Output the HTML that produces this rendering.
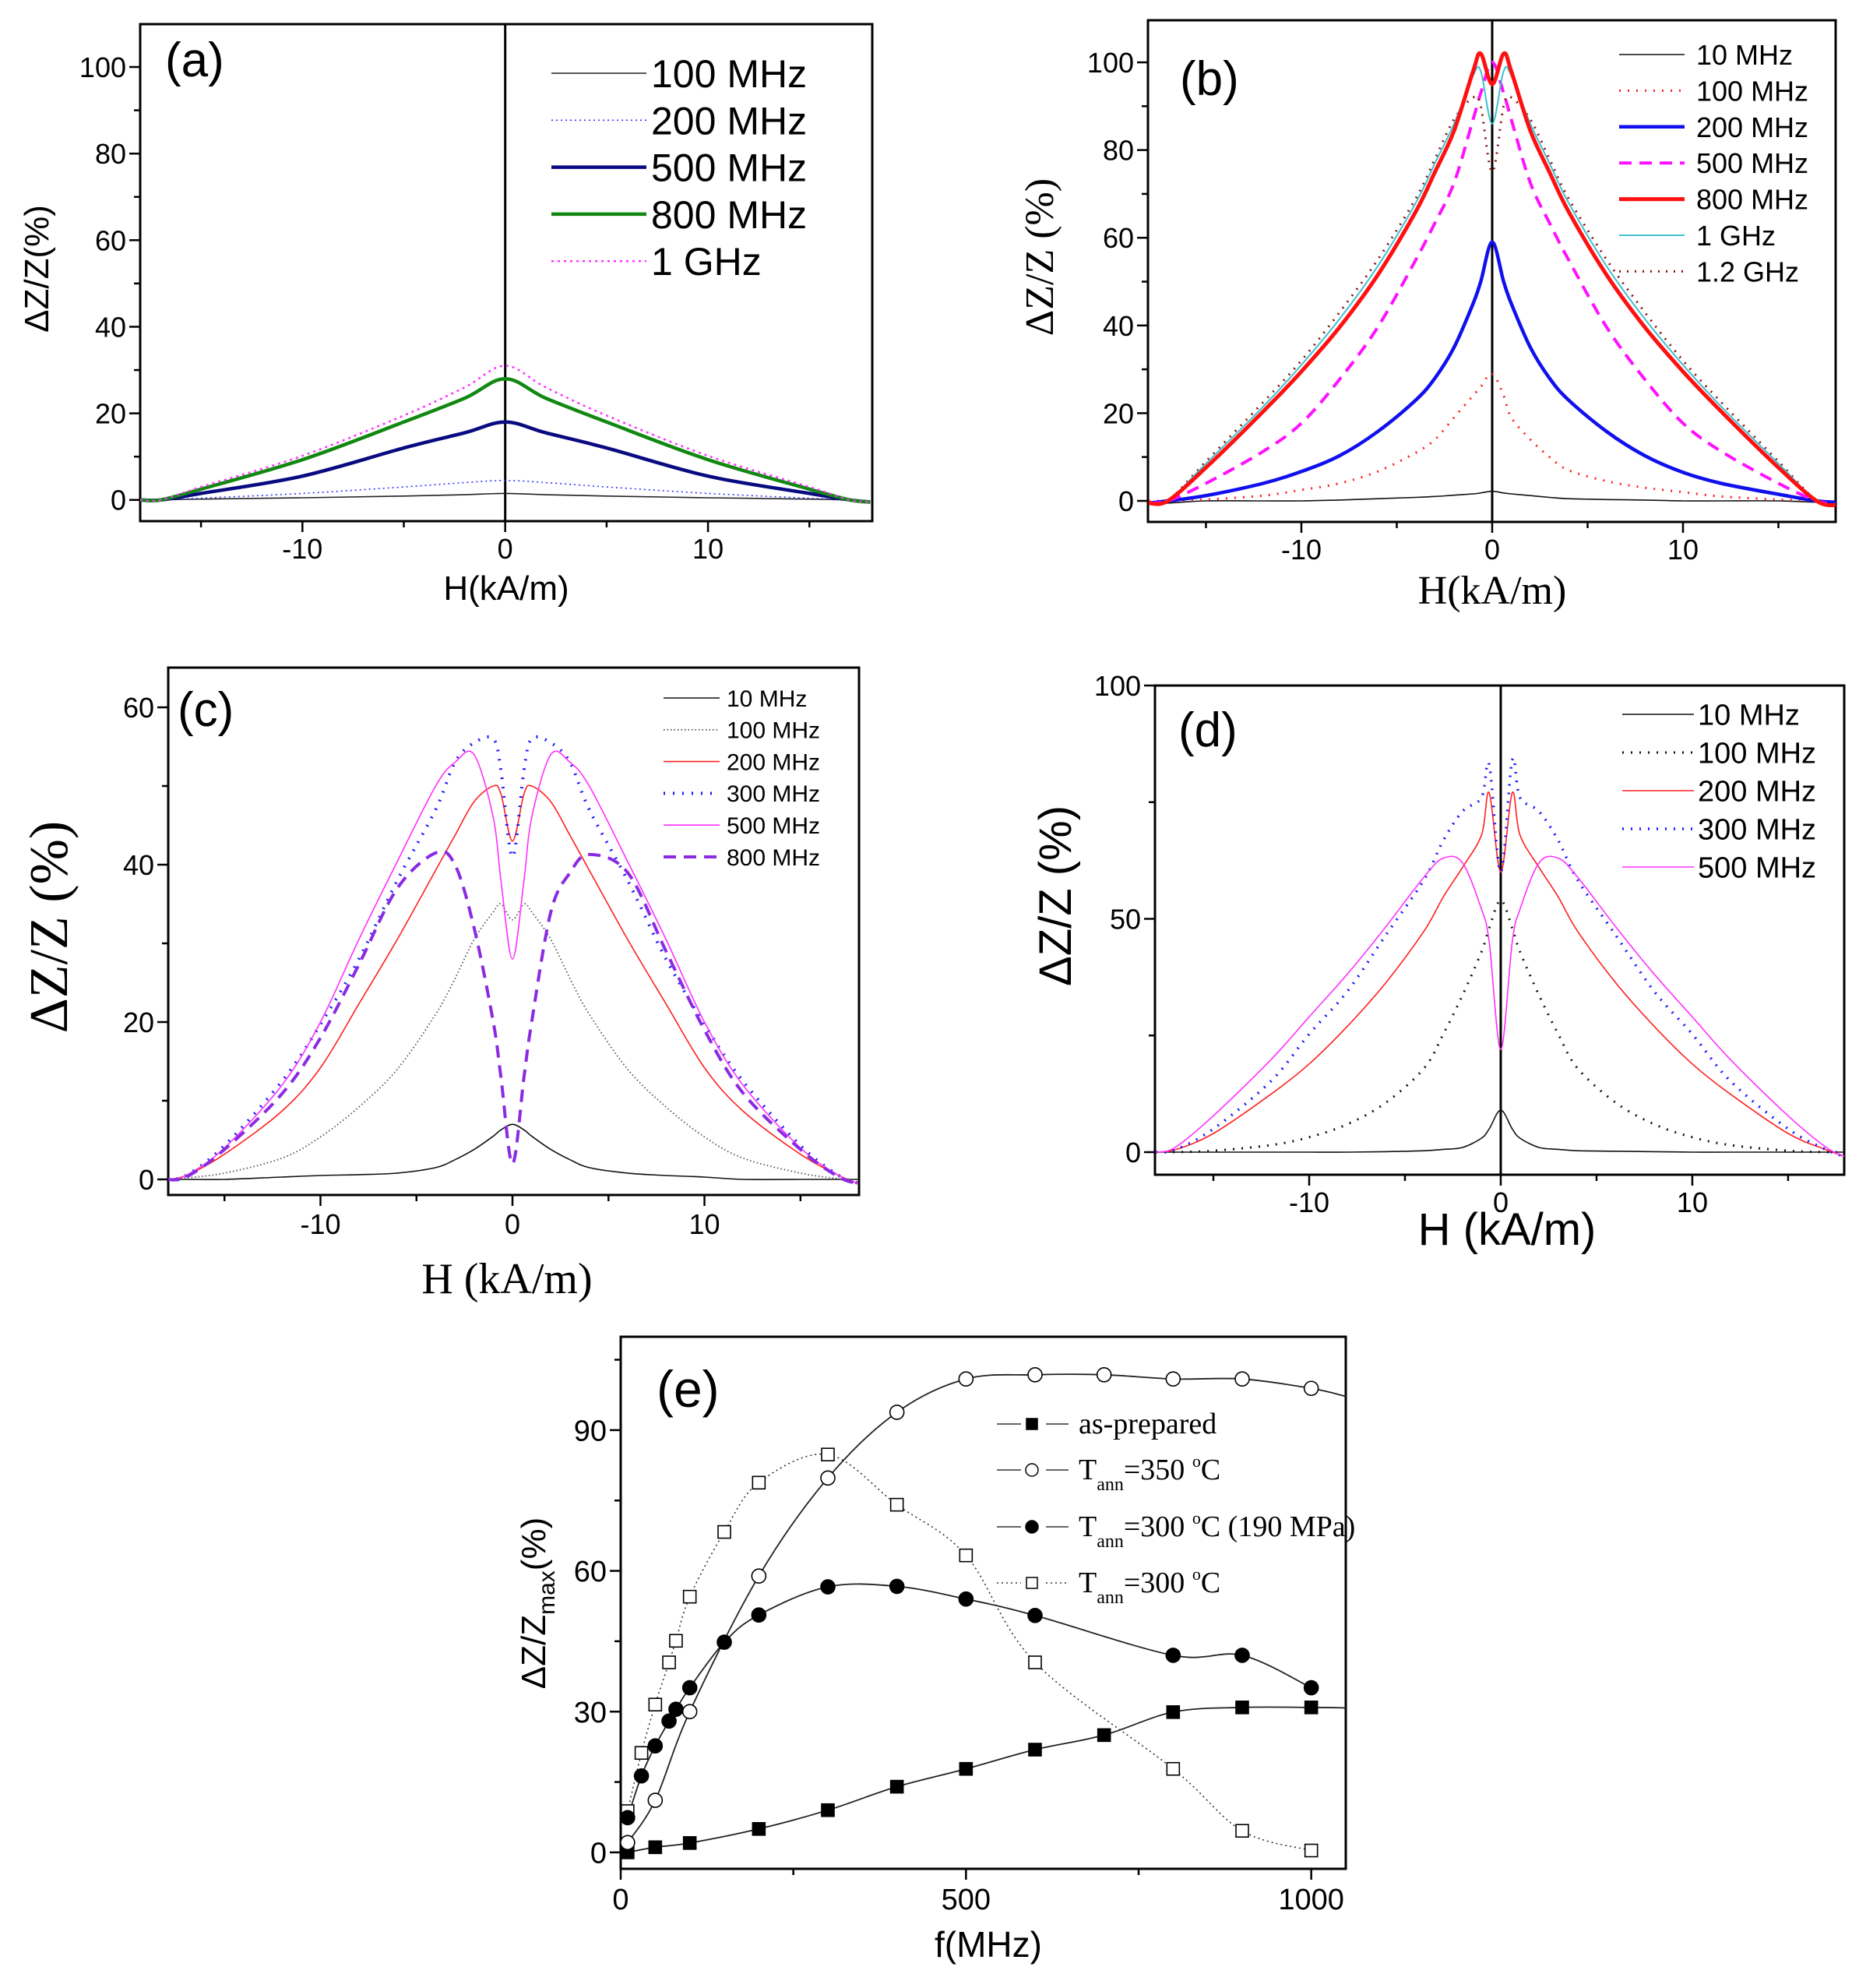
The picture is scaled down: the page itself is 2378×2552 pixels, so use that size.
<!DOCTYPE html>
<html><head><meta charset="utf-8">
<style>
html,body{margin:0;padding:0;background:#fff;}
svg{display:block;}
.sans{font-family:"Liberation Sans",sans-serif;}
.serif{font-family:"Liberation Serif",serif;}
</style></head>
<body>
<svg id="fig" width="2378" height="2552" viewBox="0 0 2378 2552" xmlns="http://www.w3.org/2000/svg"></svg>
<script>
// ---------- DATA ----------
const H_A = [-18,-17,-15,-10,-5,-2,0,2,5,10,15,17,18];
const A_100MHz = [0,0,0.2,0.5,0.9,1.2,1.5,1.2,0.9,0.5,0.2,0,-0.2];
const A_200MHz = [0,0,0.4,1.5,3,4,4.5,4,3,1.5,0.4,0,-0.2];
const A_500MHz = [0,0,1.5,5.5,12,15.5,18,15.5,12,5.5,1.5,0,-0.5];
const A_800MHz = [0,0,2.5,9.3,18,23.5,28,23.5,18,9.3,2.5,0,-0.5];
const A_1GHz = [0,0,3,10.2,19.5,26,31,26,19.5,10.2,3,0,-0.5];

const H_G = [-18,-17,-15,-12,-10,-8,-6,-4,-3,-2,-1,-0.6,0,0.6,1,2,3,4,6,8,10,12,15,17,18];
const B_10MHz = [-0.5,-0.5,0,0,0,0.2,0.5,0.8,1,1.3,1.6,1.8,2.2,1.8,1.6,1.2,0.8,0.5,0.3,0.2,0,0,0,-0.3,-0.3];
const B_100MHz = [0,0,0.3,1.2,2.5,4,6.7,11,14,19,24,26,29,24,19,14,10,7,4.5,3,2,1,0.3,0,-0.5];
const B_200MHz = [-0.5,0,1.2,4,6.7,10.3,15.8,23,28,35,45,50,59,50,45,35,28,23,15.8,10.3,6.5,4,1.5,0,-0.3];
const B_500MHz = [-0.5,0,4,11.3,17.7,27.7,39.6,55,63.4,72.5,87,93,100,93,87,72.5,63.4,55,39.6,27.7,17.7,11.3,4,0,-0.8];
const B_800MHz = [-0.5,0,7.6,20.4,29.5,39.6,51.5,66,75,84.4,98,102,95,102,98,84.4,75,66,51.5,39.6,29.5,20.4,7.6,0,-1];
const B_1GHz = [-0.5,0,8.5,21.5,31,41.5,53.5,68,77,86,97,98,86,98,97,86,77,68,53.5,41.5,31,21.5,8.5,0,-1];
const B_1_2GHz = [-0.5,0,9,22.5,32,43,55,69,78,87,92,90,75,90,92,87,78,69,55,43,32,22.5,9,0,-1];

const C_10MHz = [0,0,0,0.3,0.5,0.6,0.8,1.5,2.5,3.8,5.5,6.3,7,6.3,5.5,3.8,2.5,1.5,0.8,0.5,0.3,0,0,0,0];
const C_100MHz = [0,0.2,0.8,2.7,5.4,9.2,14,21,25.5,30.5,34,35,33,35,34,30.5,25.5,21,14,9.2,5.4,2.7,0.8,0.1,0];
const C_200MHz = [0,0.5,3.2,8.7,14.2,22.3,30.5,39.3,43.7,48,50,49,43,49,50,48,43.7,39.3,30.5,22.3,14.2,8.7,3.2,0.5,-0.5];
const C_300MHz = [0,0.5,4.3,12.5,19.7,28,38,47,53,55.5,56,52,41,52,56,55.5,53,47,38,28,19.7,12.5,4.3,0.5,-0.5];
const C_500MHz = [0,0.5,4,12,20,30.5,40.4,50,53,54,46,38,28,38,46,54,53,50,40.4,30.5,20,12,4,0.5,-0.5];
const C_800MHz = [0,0.3,3.8,10.9,18,27.3,37,41.5,40,32,20,13,2,13,20,34,39,41.3,39,29,19,11,3.8,0.3,-0.5];

const D_10MHz = [0,0,0,0,0,0,0.1,0.3,0.6,1,3,5,9,5,3,1,0.6,0.3,0.2,0.1,0,0,0,0,0];
const D_100MHz = [0,0,0.3,1.5,3.2,6,10.6,18,25.3,33.6,43,48,54,48,43,33.6,25.3,18,10.6,6,3.2,1.5,0.3,0,0];
const D_200MHz = [0,0.5,4,12.4,18.9,27,36.3,47.4,54.7,61,68,77,60,77,68,61,54.7,47.4,36.3,27,18.9,12.4,4,0.5,-1];
const D_300MHz = [0,0.5,5,15.2,25.3,34.5,46.5,58.4,66.8,73,76,83,60,84,76,73,66.8,58.4,46.5,34.5,25.3,15.2,5,0.5,-1];
const D_500MHz = [0,1,7.8,19.8,29,38.2,48.3,59,63,62,52,45,22,45,52,62,63,59,48.3,38.2,29,19.8,7.8,1,-1];

const E_F12 = [10,50,100,200,300,400,500,600,700,800,900,1000];
const E_asPrepared = [0,1.1,2,5,9,14,17.8,21.9,25,29.9,30.9,30.9];
const E_T350 = [2.1,11.1,30,58.9,79.8,93.8,100.9,101.8,101.8,100.9,100.9,98.9];
const E_F15 = [10,30,50,70,80,100,150,200,300,400,500,600,800,900,1000];
const E_T300stress = [7.4,16.3,22.7,28,30.5,35.1,44.8,50.6,56.6,56.7,54,50.5,42,42,35.1];
const E_T300 = [8.8,21.2,31.5,40.5,45.1,54.5,68.3,78.8,84.8,74.1,63.3,40.5,17.8,4.6,0.4];

const TICKS_H = [-10,0,10];
const TICKS_A_Y = [0,20,40,60,80,100];
const TICKS_C_Y = [0,20,40,60];
const TICKS_D_Y = [0,50,100];
const TICKS_E_X = [0,500,1000];
const TICKS_E_Y = [0,30,60,90];

// ---------- helpers ----------
const NS = "http://www.w3.org/2000/svg";
const svg = document.getElementById('fig');
function mk(tag, parent){ const e=document.createElementNS(NS,tag); (parent||svg).appendChild(e); return e; }
function scale(d0,d1,r0,r1){ return v => r0 + (v-d0)/(d1-d0)*(r1-r0); }
function smoothPath(pts){
  if(pts.length<2) return '';
  let d='M'+pts[0][0].toFixed(1)+','+pts[0][1].toFixed(1);
  for(let i=0;i<pts.length-1;i++){
    const p0=pts[Math.max(0,i-1)],p1=pts[i],p2=pts[i+1],p3=pts[Math.min(pts.length-1,i+2)];
    const c1=[p1[0]+(p2[0]-p0[0])/6,p1[1]+(p2[1]-p0[1])/6];
    const c2=[p2[0]-(p3[0]-p1[0])/6,p2[1]-(p3[1]-p1[1])/6];
    d+=' C'+c1[0].toFixed(1)+','+c1[1].toFixed(1)+' '+c2[0].toFixed(1)+','+c2[1].toFixed(1)+' '+p2[0].toFixed(1)+','+p2[1].toFixed(1);
  }
  return d;
}
let clipId=0;
function panel(p){
  const g=mk('g');
  
  
  const sx=scale(p.x0,p.x1,p.l,p.r), sy=scale(p.y0,p.y1,p.b,p.t);
  p.sx=sx; p.sy=sy;
  const cp=mk('clipPath',g); cp.setAttribute('id','clip'+(++clipId));
  const cr=mk('rect',cp); cr.setAttribute('x',p.l); cr.setAttribute('y',p.t); cr.setAttribute('width',p.r-p.l); cr.setAttribute('height',p.b-p.t);
  p.clip='url(#clip'+clipId+')';
  const tg=mk('g',g); tg.setAttribute('stroke','#000'); tg.setAttribute('stroke-width','2.5');
  p.xMajor.forEach(v=>{ const l=mk('line',tg); l.setAttribute('x1',sx(v)); l.setAttribute('x2',sx(v)); l.setAttribute('y1',p.b); l.setAttribute('y2',p.b+14);
    const t=mk('text',g); t.textContent=v; t.setAttribute('x',sx(v)); t.setAttribute('y',p.b+p.xlOff); t.setAttribute('text-anchor','middle'); t.setAttribute('class','sans'); t.setAttribute('font-size',p.tfs);
      });
  p.xMinor.forEach(v=>{ const l=mk('line',tg); l.setAttribute('x1',sx(v)); l.setAttribute('x2',sx(v)); l.setAttribute('y1',p.b); l.setAttribute('y2',p.b+8); });
  p.yMajor.forEach(v=>{ const l=mk('line',tg); l.setAttribute('x1',p.l-14); l.setAttribute('x2',p.l); l.setAttribute('y1',sy(v)); l.setAttribute('y2',sy(v));
    const t=mk('text',g); t.textContent=v; t.setAttribute('x',p.l-18); t.setAttribute('y',sy(v)+p.tfs*0.36); t.setAttribute('text-anchor','end'); t.setAttribute('class','sans'); t.setAttribute('font-size',p.tfs);
      });
  p.yMinor.forEach(v=>{ const l=mk('line',tg); l.setAttribute('x1',p.l-8); l.setAttribute('x2',p.l); l.setAttribute('y1',sy(v)); l.setAttribute('y2',sy(v)); });
  const fr=mk('rect',g); fr.setAttribute('x',p.l); fr.setAttribute('y',p.t); fr.setAttribute('width',p.r-p.l); fr.setAttribute('height',p.b-p.t);
  fr.setAttribute('fill','none'); fr.setAttribute('stroke','#000'); fr.setAttribute('stroke-width','3');
   
  if(p.zeroLine){ const z=mk('line',g); z.setAttribute('x1',sx(0)); z.setAttribute('x2',sx(0)); z.setAttribute('y1',p.t); z.setAttribute('y2',p.b); z.setAttribute('stroke','#000'); z.setAttribute('stroke-width','3');
      }
  const xt=mk('text',g); xt.textContent=p.xTitle; xt.setAttribute('x',p.xtx); xt.setAttribute('y',p.xty); xt.setAttribute('text-anchor','middle'); xt.setAttribute('class',p.tfont); xt.setAttribute('font-size',p.xtfs);
   
  const yt=mk('text',g); yt.textContent=p.yTitle; yt.setAttribute('text-anchor','middle'); yt.setAttribute('class',p.tfont); yt.setAttribute('font-size',p.ytfs);
  yt.setAttribute('transform','translate('+p.ytx+','+p.yty+') rotate(-90)');
   
  const pl=mk('text',g); pl.textContent=p.label; pl.setAttribute('x',p.lx); pl.setAttribute('y',p.ly); pl.setAttribute('class','sans'); pl.setAttribute('font-size',p.lfs);
   
  return g;
}
function series(p,g,xs,ys,st,name){
  const pts=xs.map((x,i)=>[p.sx(x),p.sy(ys[i])]);
  const path=mk('path',g);
  path.setAttribute('d',smoothPath(pts));
  path.setAttribute('fill','none'); path.setAttribute('stroke',st.c); path.setAttribute('stroke-width',st.w);
  if(st.d) path.setAttribute('stroke-dasharray',st.d);
  if(st.cap) path.setAttribute('stroke-linecap',st.cap);
  path.setAttribute('clip-path',p.clip);
  
  
}
function legendEntry(g,x1,x2,tx,y,fs,st,label,name){
  const l=mk('line',g); l.setAttribute('x1',x1); l.setAttribute('x2',x2); l.setAttribute('y1',y); l.setAttribute('y2',y);
  l.setAttribute('stroke',st.c); l.setAttribute('stroke-width',st.w); if(st.d) l.setAttribute('stroke-dasharray',st.d); if(st.cap) l.setAttribute('stroke-linecap',st.cap);
   
  const t=mk('text',g); t.textContent=label; t.setAttribute('x',tx); t.setAttribute('y',y+fs*0.36); t.setAttribute('class','sans'); t.setAttribute('font-size',fs);
   
}

// ---------- Panel (a) ----------
const PA={id:'a',l:180,r:1120,t:31,b:669,x0:-18.0,x1:18.1,y0:-4.9,y1:109.9,xMajor:TICKS_H,xMinor:[-15,-5,5,15],yMajor:TICKS_A_Y,yMinor:[10,30,50,70,90],
 tfs:36,xlOff:48,zeroLine:true,xTitle:'H(kA/m)',xtx:650,xty:770,xtfs:44,yTitle:'ΔZ/Z(%)',ytx:62,yty:345,ytfs:44,tfont:'sans',label:'(a)',lx:212,ly:98,lfs:62};
const ga=panel(PA);
const stA=[{c:'#222',w:1.6},{c:'#3333ff',w:1.6,d:'2 4'},{c:'#0a0a80',w:4.5},{c:'#118811',w:4.5},{c:'#ff33ff',w:2.5,d:'3 5'}];
series(PA,ga,H_A,A_100MHz,stA[0],'curve-100mhz');
series(PA,ga,H_A,A_200MHz,stA[1],'curve-200mhz');
series(PA,ga,H_A,A_500MHz,stA[2],'curve-500mhz');
series(PA,ga,H_A,A_800MHz,stA[3],'curve-800mhz');
series(PA,ga,H_A,A_1GHz,stA[4],'curve-1ghz');
const lbA=['100 MHz','200 MHz','500 MHz','800 MHz','1 GHz'];
lbA.forEach((s,i)=>legendEntry(ga,708,830,836,94+i*60.3,50,stA[i],s,'legend-entry'));

// ---------- Panel (b) ----------
const PB={id:'b',l:1474,r:2357,t:26,b:670,x0:-18.04,x1:18.0,y0:-4.8,y1:109.6,xMajor:TICKS_H,xMinor:[-15,-5,5,15],yMajor:TICKS_A_Y,yMinor:[10,30,50,70,90],
 tfs:36,xlOff:48,zeroLine:true,xTitle:'H(kA/m)',xtx:1916,xty:775,xtfs:52,yTitle:'ΔZ/Z (%)',ytx:1352,yty:330,ytfs:52,tfont:'serif',label:'(b)',lx:1515,ly:122,lfs:62};
const gb=panel(PB);
const stB=[{c:'#111',w:1.6},{c:'#ff2020',w:3,d:'2 9',cap:'butt'},{c:'#1010ee',w:4.5},{c:'#ff10ff',w:4,d:'16 10'},{c:'#ff1010',w:5},{c:'#40c0d0',w:2},{c:'#8b1010',w:3,d:'2 8'}];
series(PB,gb,H_G,B_10MHz,stB[0],'curve-10mhz');
series(PB,gb,H_G,B_100MHz,stB[1],'curve-100mhz');
series(PB,gb,H_G,B_200MHz,stB[2],'curve-200mhz');
series(PB,gb,H_G,B_500MHz,stB[3],'curve-500mhz');
series(PB,gb,H_G,B_1_2GHz,stB[6],'curve-1-2ghz');
series(PB,gb,H_G,B_1GHz,stB[5],'curve-1ghz');
series(PB,gb,H_G,B_800MHz,stB[4],'curve-800mhz');
const lbB=['10 MHz','100 MHz','200 MHz','500 MHz','800 MHz','1 GHz','1.2 GHz'];
lbB.forEach((s,i)=>legendEntry(gb,2079,2163,2178,70+i*46.4,36,stB[i],s,'legend-entry'));

// ---------- Panel (c) ----------
const PC={id:'c',l:216,r:1103,t:857,b:1534,x0:-17.93,x1:18.05,y0:-1.98,y1:65.05,xMajor:TICKS_H,xMinor:[-15,-5,5,15],yMajor:TICKS_C_Y,yMinor:[10,30,50],
 tfs:36,xlOff:50,zeroLine:false,xTitle:'H (kA/m)',xtx:651,xty:1660,xtfs:56,yTitle:'ΔZ/Z (%)',ytx:86,yty:1190,ytfs:70,tfont:'serif',label:'(c)',lx:228,ly:932,lfs:62};
const gc=panel(PC);
const stC=[{c:'#111',w:1.6},{c:'#555',w:1.8,d:'1.5 3'},{c:'#ff2020',w:1.6},{c:'#1a1aff',w:4,d:'2 10'},{c:'#ff30ff',w:1.6},{c:'#8a2be2',w:4,d:'16 10'}];
series(PC,gc,H_G,C_10MHz,stC[0],'curve-10mhz');
series(PC,gc,H_G,C_100MHz,stC[1],'curve-100mhz');
series(PC,gc,H_G,C_200MHz,stC[2],'curve-200mhz');
series(PC,gc,H_G,C_300MHz,stC[3],'curve-300mhz');
series(PC,gc,H_G,C_500MHz,stC[4],'curve-500mhz');
series(PC,gc,H_G,C_800MHz,stC[5],'curve-800mhz');
const lbC=['10 MHz','100 MHz','200 MHz','300 MHz','500 MHz','800 MHz'];
lbC.forEach((s,i)=>legendEntry(gc,852,924,933,896+i*40.8,30,stC[i],s,'legend-entry'));

// ---------- Panel (d) ----------
const PD={id:'d',l:1483,r:2368,t:880,b:1508,x0:-18.05,x1:17.93,y0:-4.84,y1:100,xMajor:TICKS_H,xMinor:[-15,-5,5,15],yMajor:TICKS_D_Y,yMinor:[25,75],
 tfs:36,xlOff:48,zeroLine:true,xTitle:'H (kA/m)',xtx:1935,xty:1598,xtfs:58,yTitle:'ΔZ/Z (%)',ytx:1375,yty:1150,ytfs:58,tfont:'sans',label:'(d)',lx:1513,ly:958,lfs:62};
const gd=panel(PD);
const stD=[{c:'#111',w:1.6},{c:'#111',w:3,d:'2 9',cap:'butt'},{c:'#ff2020',w:1.6},{c:'#1a1aff',w:3.5,d:'2 9'},{c:'#ff30ff',w:1.6}];
series(PD,gd,H_G,D_10MHz,stD[0],'curve-10mhz');
series(PD,gd,H_G,D_100MHz,stD[1],'curve-100mhz');
series(PD,gd,H_G,D_200MHz,stD[2],'curve-200mhz');
series(PD,gd,H_G,D_300MHz,stD[3],'curve-300mhz');
series(PD,gd,H_G,D_500MHz,stD[4],'curve-500mhz');
const lbD=['10 MHz','100 MHz','200 MHz','300 MHz','500 MHz'];
lbD.forEach((s,i)=>legendEntry(gd,2083,2175,2180,917+i*49,38,stD[i],s,'legend-entry'));

// ---------- Panel (e) ----------
const PE={id:'e',l:797,r:1728,t:1716,b:2399,x0:0,x1:1050,y0:-3.5,y1:109.9,xMajor:TICKS_E_X,xMinor:[250,750],yMajor:TICKS_E_Y,yMinor:[15,45,75,105],
 tfs:38,xlOff:52,zeroLine:false,xTitle:'f(MHz)',xtx:1269,xty:2512,xtfs:46,yTitle:'',ytx:0,yty:0,ytfs:10,tfont:'sans',label:'(e)',lx:843,ly:1806,lfs:66};
const ge=panel(PE);
const yte=mk('text',ge); yte.setAttribute('class','sans'); yte.setAttribute('font-size','44'); yte.setAttribute('text-anchor','middle');
yte.setAttribute('transform','translate(700,2058) rotate(-90)');
 
const ts1=mk('tspan',yte); ts1.textContent='ΔZ/Z';
const ts2=mk('tspan',yte); ts2.textContent='max'; ts2.setAttribute('font-size','30'); ts2.setAttribute('dy','12');
const ts3=mk('tspan',yte); ts3.textContent='(%)'; ts3.setAttribute('dy','-12');
function markers(p,g,xs,ys,kind,name){
  xs.forEach((x,i)=>{
    let m;
    const cx=p.sx(x), cy=p.sy(ys[i]);
    if(kind==='sq'||kind==='osq'){ m=mk('rect',g); m.setAttribute('x',cx-8); m.setAttribute('y',cy-8); m.setAttribute('width',16); m.setAttribute('height',16); }
    else { m=mk('circle',g); m.setAttribute('cx',cx); m.setAttribute('cy',cy); m.setAttribute('r',9); }
    m.setAttribute('fill',(kind==='sq'||kind==='dot')?'#000':'#fff');
    m.setAttribute('stroke','#000'); m.setAttribute('stroke-width','1.6');
    
    
  });
}
const stE={c:'#222',w:1.8};
const stEdot={c:'#333',w:1.6,d:'2 4'};
series(PE,ge,E_F15,E_T300,stEdot,'curve-tann-300');
series(PE,ge,E_F12.concat([1050]),E_asPrepared.concat([30.8]),stE,'curve-as-prepared');
series(PE,ge,E_F12.concat([1050]),E_T350.concat([97.2]),stE,'curve-tann-350');
series(PE,ge,E_F15,E_T300stress,stE,'curve-tann-300-stress');
markers(PE,ge,E_F15,E_T300,'osq','tann-300');
markers(PE,ge,E_F12,E_asPrepared,'sq','as-prepared');
markers(PE,ge,E_F12,E_T350,'circ','tann-350');
markers(PE,ge,E_F15,E_T300stress,'dot','tann-300-stress');
const legE=[{k:'sq',st:stE,t:'as-prepared',temp:null},{k:'circ',st:stE,temp:'350',extra:''},{k:'dot',st:stE,temp:'300',extra:' (190 MPa)'},{k:'osq',st:stEdot,temp:'300',extra:''}];
const legRows=[1828,1887,1960,2032];
legE.forEach((e,i)=>{
  const y=legRows[i];
  const lg=mk('g',ge);
  
  
  [[1280,1311],[1343,1372]].forEach(seg=>{ const l=mk('line',lg); l.setAttribute('x1',seg[0]); l.setAttribute('x2',seg[1]); l.setAttribute('y1',y); l.setAttribute('y2',y); l.setAttribute('stroke','#333'); l.setAttribute('stroke-width','1.6'); if(e.st.d) l.setAttribute('stroke-dasharray','2 4'); });
  let m;
  if(e.k==='sq'||e.k==='osq'){ m=mk('rect',lg); m.setAttribute('x',1318); m.setAttribute('y',y-7); m.setAttribute('width',14); m.setAttribute('height',14); }
  else { m=mk('circle',lg); m.setAttribute('cx',1325); m.setAttribute('cy',y); m.setAttribute('r',8); }
  m.setAttribute('fill',(e.k==='sq'||e.k==='dot')?'#000':'#fff'); m.setAttribute('stroke','#000'); m.setAttribute('stroke-width','1.5');
  const t=mk('text',lg); t.setAttribute('x',1385); t.setAttribute('y',y+12); t.setAttribute('class','serif'); t.setAttribute('font-size','38');
  if(e.temp===null){ t.textContent=e.t; }
  else {
    const a=mk('tspan',t); a.textContent='T';
    const b=mk('tspan',t); b.textContent='ann'; b.setAttribute('font-size','24'); b.setAttribute('dy','14');
    const c=mk('tspan',t); c.textContent='='+e.temp+' '; c.setAttribute('dy','-14');
    const d=mk('tspan',t); d.textContent='o'; d.setAttribute('font-size','22'); d.setAttribute('dy','-16');
    const f=mk('tspan',t); f.textContent='C'+e.extra; f.setAttribute('dy','16');
  }
});
</script>
</body></html>
